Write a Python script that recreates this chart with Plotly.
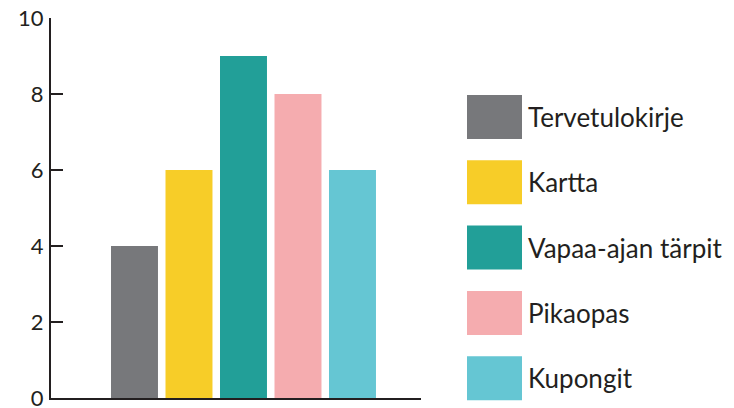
import plotly.graph_objects as go

categories = ["Tervetulokirje", "Kartta", "Vapaa-ajan tärpit", "Pikaopas", "Kupongit"]
values = [4, 6, 9, 8, 6]
colors = ["#77787b", "#f7cd28", "#229f98", "#f5acaf", "#65c6d3"]
y_ticks = [0, 2, 4, 6, 8, 10]

W, H = 734, 408
ML, MR, MT, MB = 51, 313, 18, 10
PW, PH = W - ML - MR, H - MT - MB
FONT = "Lato"
INK = "#231f20"

XMIN, XMAX = -1.532, 5.257

fig = go.Figure()
for i, (cat, val, col) in enumerate(zip(categories, values, colors)):
    fig.add_trace(go.Bar(
        x=[i], y=[val], name=cat, width=0.862,
        marker=dict(color=col, line=dict(width=0)),
        showlegend=False, hoverinfo="name+y",
    ))

def px_to_paper_x(px):
    return (px - ML) / PW

def px_to_paper_y(py):
    return (H - MB - py) / PH

shapes = []
annotations = []
sw_left, sw_right, sw_h = 467, 522, 44
first_top, pitch = 95, 65.3
for i, (cat, col) in enumerate(zip(categories, colors)):
    top = first_top + i * pitch
    shapes.append(dict(
        type="rect", xref="paper", yref="paper",
        x0=px_to_paper_x(sw_left), x1=px_to_paper_x(sw_right),
        y0=px_to_paper_y(top + sw_h), y1=px_to_paper_y(top),
        fillcolor=col, line=dict(width=0),
    ))
    annotations.append(dict(
        xref="paper", yref="paper",
        x=px_to_paper_x(526), y=px_to_paper_y(top + sw_h / 2),
        xanchor="left", yanchor="middle", showarrow=False,
        text=cat, font=dict(family=FONT, size=26, color=INK),
    ))

fig.update_layout(
    width=W, height=H,
    margin=dict(l=ML, r=MR, t=MT, b=MB, pad=0, autoexpand=False),
    paper_bgcolor="white", plot_bgcolor="white",
    barmode="overlay",
    shapes=shapes, annotations=annotations,
    font=dict(family=FONT, color=INK),
    xaxis=dict(
        range=[XMIN, XMAX], showgrid=False, zeroline=False, automargin=False,
        showline=True, linecolor=INK, linewidth=2,
        tickvals=[XMAX], ticks="inside", ticklen=9, tickwidth=2, tickcolor=INK,
        showticklabels=False, fixedrange=True,
    ),
    yaxis=dict(
        range=[0, 10], showgrid=False, zeroline=False, automargin=False,
        showline=True, linecolor=INK, linewidth=2,
        tickvals=y_ticks, ticktext=[str(v) for v in y_ticks],
        ticks="inside", ticklen=12, tickwidth=2, tickcolor=INK,
        tickfont=dict(family=FONT, size=22, color=INK),
        ticklabelstandoff=1, ticklabeloverflow="allow", fixedrange=True,
    ),
)

fig.write_html(
    "out.html",
    config={"displayModeBar": False},
    post_script="document.body.style.margin='0';document.body.style.overflow='hidden';",
)
